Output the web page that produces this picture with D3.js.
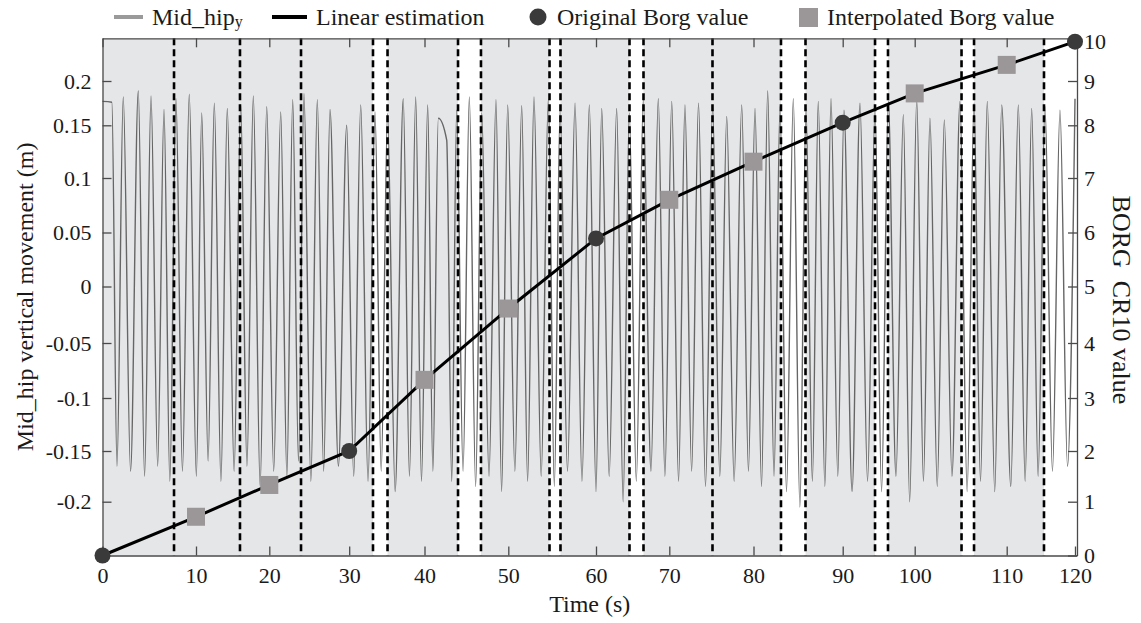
<!DOCTYPE html>
<html>
<head>
  <meta charset="utf-8">
  <title>Mid_hip vertical movement and Borg CR10</title>
  <script src="https://d3js.org/d3.v7.min.js"></script>
  <style>
    body { margin: 0; background: #fff; }
    text { font-family: "Liberation Serif", "Times New Roman", serif; fill: #1a1a1a; }
    .axis path, .axis line { stroke: #4a4a4a; stroke-width: 1.3; }
    .axis text { font-size: 22px; }
  </style>
</head>
<body>
  <svg id="chart" width="1141" height="623"></svg>

  <script>
    // ---- data ----
    var timeTicks = [0, 10, 20, 30, 40, 50, 60, 70, 80, 90, 100, 110, 120];
    var hipTicks = [0.2, 0.15, 0.1, 0.05, 0, -0.05, -0.1, -0.15, -0.2];
    var borgTicks = [0, 1, 2, 3, 4, 5, 6, 7, 8, 9, 10];

    var borgTime = [0, 10, 20, 30, 40, 50, 60, 70, 80, 90, 100, 110, 120];
    var borgValue = [0, 0.72, 1.33, 2, 3.33, 4.61, 5.89, 6.6, 7.31, 8.06, 8.72, 9.41, 10];
    var originalTimes = [0, 30, 60, 90, 120];

    // shaded segments and dashed boundaries (s)
    var bandStart = [0, 35.09, 46.74, 55.95, 66.48, 85.83, 96.29, 106.45];
    var bandEnd = [33.16, 44.0, 54.7, 64.57, 83.08, 94.49, 105.09, 115.46];
    var dashTimes = [7.65, 16.0, 23.97, 33.16, 35.09, 44.0, 46.74, 54.7, 55.95, 64.57,
                     66.48, 75.13, 83.08, 85.83, 94.49, 96.29, 105.09, 106.45, 115.46];

    // Mid_hip y: peaks and troughs [time s, metres]
    var hipSignal = [
      [0, 0.177], [1.0, 0.176], [1.55, -0.165],
      [2.22, 0.182], [3.0, -0.17], [3.83, 0.189], [4.5, -0.175],
      [5.19, 0.183], [5.9, -0.165], [6.58, 0.168], [7.2, -0.18],
      [7.86, 0.180], [8.55, -0.17], [9.28, 0.185], [10.05, -0.175],
      [10.78, 0.164], [11.65, -0.16], [12.5, 0.175], [13.4, -0.18],
      [14.27, 0.169], [15.2, -0.17], [16.1, 0.173], [16.95, -0.165],
      [17.82, 0.183], [18.75, -0.185], [19.65, 0.171], [20.55, -0.17],
      [21.43, 0.165], [22.2, -0.175], [22.93, 0.179], [23.65, -0.16],
      [24.34, 0.186], [25.2, -0.18], [26.01, 0.179], [26.8, -0.17],
      [27.6, 0.168], [28.65, -0.165], [29.69, 0.150], [30.6, -0.175],
      [31.53, 0.173], [32.5, -0.18], [33.43, 0.165], [34.25, -0.17],
      [35.09, 0.163], [36.1, -0.19], [37.18, 0.180], [38.0, -0.175],
      [38.83, 0.182], [39.6, -0.18], [40.38, 0.173], [41.0, -0.17],
      [41.65, 0.158], [42.65, 0.136], [43.25, -0.18],
      [43.84, 0.167], [44.6, -0.17], [45.35, 0.182], [46.1, -0.185],
      [46.83, 0.164], [47.7, -0.175], [48.53, 0.179], [49.2, -0.19],
      [49.93, 0.173], [50.75, -0.17], [51.53, 0.172], [52.2, -0.18],
      [52.93, 0.182], [53.75, -0.175], [54.56, 0.179], [55.25, -0.185],
      [55.9, 0.167], [56.75, -0.17], [57.61, 0.175], [58.4, -0.18],
      [59.24, 0.173], [60.0, -0.19], [60.78, 0.169], [61.8, -0.175],
      [62.82, 0.169], [63.7, -0.2], [64.54, 0.164], [65.5, -0.18],
      [66.45, 0.179], [67.5, -0.17], [68.5, 0.180], [69.4, -0.175],
      [70.29, 0.177], [71.1, -0.18], [71.86, 0.173], [72.65, -0.17],
      [73.47, 0.175], [74.3, -0.185], [75.15, 0.171], [76.0, -0.175],
      [76.82, 0.160], [77.7, -0.18], [78.6, 0.173], [79.4, -0.17],
      [80.17, 0.169], [80.9, -0.185], [81.59, 0.189], [82.3, -0.175],
      [82.97, 0.171], [83.7, -0.19], [84.46, 0.180], [85.2, -0.205],
      [85.89, 0.169], [86.6, -0.18], [87.26, 0.177], [88.0, -0.185],
      [88.69, 0.180], [89.45, -0.175], [90.18, 0.167], [91.3, -0.19],
      [92.4, 0.175], [93.45, -0.18], [94.49, 0.167], [95.4, -0.19],
      [96.33, 0.177], [97.4, -0.175], [98.42, 0.162], [99.3, -0.2],
      [100.22, 0.179], [100.95, -0.18], [101.66, 0.158], [102.45, -0.185],
      [103.22, 0.156], [104.05, -0.175], [104.92, 0.177], [105.7, -0.19],
      [106.45, 0.175], [107.15, -0.18], [107.89, 0.177], [108.7, -0.19],
      [109.46, 0.173], [110.6, -0.185], [111.7, 0.173], [112.7, -0.18],
      [113.66, 0.169], [114.6, -0.175], [115.61, 0.171], [116.7, -0.17],
      [117.8, 0.167], [118.9, -0.165], [120.0, 0.180]
    ];

    // ---- layout ----
    var svg = d3.select("#chart");
    var plotLeft = 102.5, plotRight = 1077, plotTop = 38.3, plotBottom = 555.5;

    // the printed axes are not evenly spaced, so both scales are piecewise
    var x = d3.scaleLinear()
      .domain(timeTicks.concat([120.2]))
      .range([plotLeft, 196, 269.3, 349.2, 424.5, 508.3, 596, 669.3, 753.5, 842.7, 914.7, 1006.7, 1075, plotRight]);

    var yStops = [plotBottom, 501.7, 451, 398, 343, 286.5, 232.5, 178, 125.3, 81, 41.7, plotTop];
    var yBorg = d3.scaleLinear()
      .domain(borgTicks.concat([10.08]))
      .range(yStops);
    var yHip = d3.scaleLinear()
      .domain([-0.25, -0.2, -0.15, -0.1, -0.05, 0, 0.05, 0.1, 0.15, 0.2, 0.25, 0.254])
      .range(yStops);

    // shaded segments
    svg.append("g").selectAll("rect")
      .data(bandStart)
      .enter()
      .append("rect")
      .attr("x", d => x(d))
      .attr("y", plotTop)
      .attr("width", (d, i) => x(bandEnd[i]) - x(d))
      .attr("height", plotBottom - plotTop)
      .attr("fill", "#e5e6e8");

    // hip signal
    var hipLine = d3.line()
      .x(d => x(d[0]))
      .y(d => yHip(d[1]))
      .curve(d3.curveMonotoneX);

    svg.append("path")
      .datum(hipSignal)
      .attr("d", hipLine)
      .attr("fill", "none")
      .attr("stroke", "#666")
      .attr("stroke-width", 1.4);

    // dashed boundaries
    svg.append("g").selectAll("line")
      .data(dashTimes)
      .enter()
      .append("line")
      .attr("x1", d => x(d))
      .attr("x2", d => x(d))
      .attr("y1", plotTop)
      .attr("y2", plotBottom)
      .attr("stroke", "#000")
      .attr("stroke-width", 2.6)
      .attr("stroke-dasharray", "7,4");

    // axes, ticks pointing inwards
    svg.append("g")
      .attr("class", "axis")
      .attr("transform", "translate(0," + plotBottom + ")")
      .call(d3.axisBottom(x).tickValues(timeTicks).tickSizeInner(-9).tickSizeOuter(0).tickPadding(12));

    svg.append("g")
      .attr("class", "axis")
      .attr("transform", "translate(0," + plotTop + ")")
      .call(d3.axisTop(x).tickValues(timeTicks).tickSizeInner(-9).tickSizeOuter(0).tickFormat(""));

    svg.append("g")
      .attr("class", "axis")
      .attr("transform", "translate(" + plotLeft + ",0)")
      .call(d3.axisLeft(yHip).tickValues(hipTicks).tickSizeInner(-9).tickSizeOuter(0).tickPadding(11)
        .tickFormat(d => String(d)));

    svg.append("g")
      .attr("class", "axis")
      .attr("transform", "translate(" + plotRight + ",0)")
      .call(d3.axisRight(yBorg).tickValues(borgTicks).tickSizeInner(-9).tickSizeOuter(0).tickPadding(7));

    svg.selectAll(".axis .domain").attr("fill", "none");

    // linear estimation of Borg value
    var borgPts = borgTime.map((t, i) => [t, borgValue[i]]);
    svg.append("path")
      .datum(borgPts)
      .attr("d", d3.line().x(d => x(d[0])).y(d => yBorg(d[1])))
      .attr("fill", "none")
      .attr("stroke", "#000")
      .attr("stroke-width", 3);

    var interp = borgPts.filter(d => originalTimes.indexOf(d[0]) < 0);
    var orig = borgPts.filter(d => originalTimes.indexOf(d[0]) >= 0);

    svg.append("g").selectAll("rect")
      .data(interp)
      .enter()
      .append("rect")
      .attr("x", d => x(d[0]) - 9)
      .attr("y", d => yBorg(d[1]) - 9)
      .attr("width", 18)
      .attr("height", 18)
      .attr("fill", "#9b9799");

    svg.append("g").selectAll("circle")
      .data(orig)
      .enter()
      .append("circle")
      .attr("cx", d => x(d[0]))
      .attr("cy", d => yBorg(d[1]))
      .attr("r", 8)
      .attr("fill", "#3a3a3a");

    // axis titles
    svg.append("text")
      .attr("x", (plotLeft + plotRight) / 2)
      .attr("y", 612)
      .attr("text-anchor", "middle")
      .style("font-size", "24px")
      .text("Time (s)");

    svg.append("text")
      .attr("transform", "translate(33," + ((plotTop + plotBottom) / 2) + ") rotate(-90)")
      .attr("text-anchor", "middle")
      .style("font-size", "24px")
      .text("Mid_hip vertical movement (m)");

    svg.append("text")
      .attr("transform", "translate(1113," + ((plotTop + plotBottom) / 2 + 3) + ") rotate(90)")
      .attr("text-anchor", "middle")
      .style("font-size", "26px")
      .style("white-space", "pre")
      .text("BORG  CR10 value");

    // legend
    var legend = svg.append("g").attr("transform", "translate(0,17)");

    legend.append("line")
      .attr("x1", 114).attr("x2", 143)
      .attr("stroke", "#9a9a9a").attr("stroke-width", 4);
    var lt = legend.append("text").attr("x", 152).attr("y", 8).style("font-size", "24px");
    lt.append("tspan").text("Mid_hip");
    lt.append("tspan").attr("dy", 2).style("font-size", "16px").text("y");

    legend.append("line")
      .attr("x1", 272).attr("x2", 307)
      .attr("stroke", "#000").attr("stroke-width", 4);
    legend.append("text").attr("x", 316).attr("y", 8).style("font-size", "24px")
      .text("Linear estimation");

    legend.append("circle")
      .attr("cx", 538).attr("cy", 0).attr("r", 8.5)
      .attr("fill", "#3a3a3a");
    legend.append("text").attr("x", 557).attr("y", 8).style("font-size", "24px")
      .text("Original Borg value");

    legend.append("rect")
      .attr("x", 799).attr("y", -9).attr("width", 19).attr("height", 19)
      .attr("fill", "#9b9799");
    legend.append("text").attr("x", 827).attr("y", 8).style("font-size", "24px")
      .text("Interpolated Borg value");
  </script>
</body>
</html>
